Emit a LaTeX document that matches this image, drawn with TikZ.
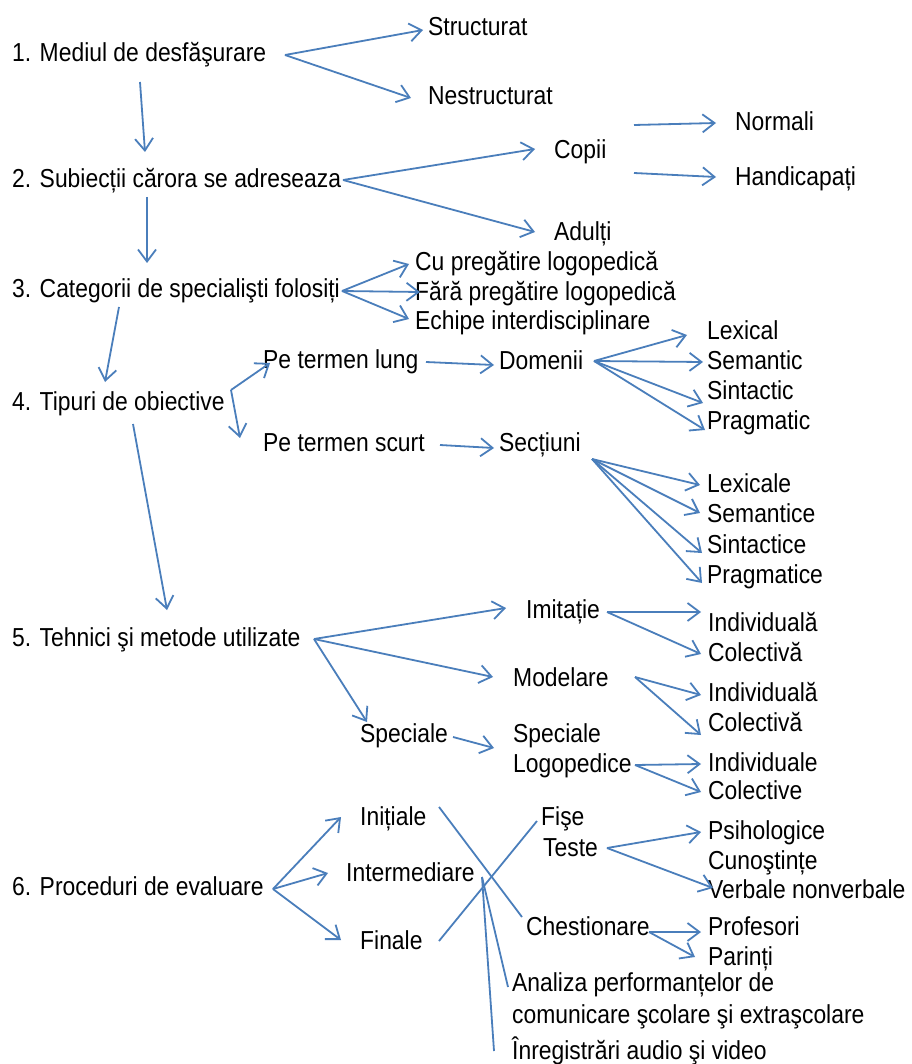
\documentclass[tikz,border=0pt]{standalone}
\usepackage{fontspec}
\setmainfont{Liberation Sans}[FakeStretch=0.88]
\usetikzlibrary{arrows.meta,calc}
\definecolor{lineblue}{RGB}{74,126,187}
\tikzset{
  txt/.style={anchor=base west, inner sep=0pt, font=\fontsize{26pt}{30pt}\selectfont},
  txt2/.style={txt, align=left},
  arr/.style={draw=lineblue, line width=1.8pt, -{Straight Barb[length=12pt,width=18pt]}},
  ln/.style={draw=lineblue, line width=1.8pt}
}
\begin{document}
\begin{tikzpicture}[x=1pt,y=-1pt]
\useasboundingbox[fill=white] (0,0) rectangle (911,1064);
% nodes
\node[txt] (n1) at (12,62) {1. Mediul de desfăşurare};
\node[txt] (st) at (428,36) {Structurat};
\node[txt] (ne) at (428,105) {Nestructurat};
\node[txt] (n2) at (12,188) {2. Subiecții cărora se adreseaza};
\node[txt] (co) at (554,159) {Copii};
\node[txt] (ad) at (554,241) {Adulți};
\node[txt] (no) at (735,131) {Normali};
\node[txt] (ha) at (735,186) {Handicapați};
\node[txt] (n3) at (12,298) {3. Categorii de specialişti folosiți};
\node[txt] (cu) at (415,271) {Cu pregătire logopedică};
\node[txt] (fa) at (415,300) {Fără pregătire logopedică};
\node[txt] (ec) at (415,329) {Echipe interdisciplinare};
\node[txt] (n4) at (12,410) {4. Tipuri de obiective};
\node[txt] (pl) at (263,368) {Pe termen lung};
\node[txt] (ps) at (263,451) {Pe termen scurt};
\node[txt] (do) at (499,369) {Domenii};
\node[txt] (se) at (499,451) {Secțiuni};
\node[txt] (lx) at (707,339) {Lexical};
\node[txt] (sm) at (707,369) {Semantic};
\node[txt] (si) at (707,399) {Sintactic};
\node[txt] (pr) at (707,429) {Pragmatic};
\node[txt] (lxe) at (707,492) {Lexicale};
\node[txt] (sme) at (707,522) {Semantice};
\node[txt] (sie) at (707,553) {Sintactice};
\node[txt] (pre) at (707,583) {Pragmatice};
\node[txt] (n5) at (12,646) {5. Tehnici şi metode utilizate};
\node[txt] (im) at (526,618) {Imitație};
\node[txt] (mo) at (513,686) {Modelare};
\node[txt] (sp) at (360,742) {Speciale};
\node[txt2] (sl) at (513,772) {Speciale\\[0pt]Logopedice};
\node[txt] (i1) at (708,631) {Individuală};
\node[txt] (c1) at (708,661) {Colectivă};
\node[txt] (i2) at (708,701) {Individuală};
\node[txt] (c2) at (708,731) {Colectivă};
\node[txt] (i3) at (708,771) {Individuale};
\node[txt] (c3) at (708,799) {Colective};
\node[txt] (n6) at (12,895) {6. Proceduri de evaluare};
\node[txt] (in) at (360,825) {Inițiale};
\node[txt] (it) at (346,881) {Intermediare};
\node[txt] (fi) at (360,949) {Finale};
\node[txt] (fs) at (541,825) {Fişe};
\node[txt] (te) at (543,856) {Teste};
\node[txt] (ps2) at (708,839) {Psihologice};
\node[txt] (cn) at (708,869) {Cunoştințe};
\node[txt] (vb) at (708,898) {Verbale nonverbale};
\node[txt] (ch) at (526,935) {Chestionare};
\node[txt] (pf) at (708,935) {Profesori};
\node[txt] (pa) at (708,965) {Parinți};
\node[txt2] (an) at (512,1023) {Analiza performanțelor de\\[2pt]comunicare şcolare şi extraşcolare};
\node[txt] (ir) at (512,1059) {Înregistrări audio şi video};
% connectors
\draw[arr] ($(n1.base west)+(273,-7)$) -- ($(st.base west)+(-5,-6)$);
\draw[arr] ($(n1.base west)+(273,-7)$) -- ($(ne.base west)+(-17,-7)$);
\draw[arr] ($(n1.base west)+(128,20)$) -- ($(n2.base west)+(133,-36)$);
\draw[arr] ($(n2.base west)+(331,-8)$) -- ($(co.base west)+(-19,-10)$);
\draw[arr] ($(n2.base west)+(331,-8)$) -- ($(ad.base west)+(-19,-9)$);
\draw[arr] ($(co.base west)+(80,-34)$) -- ($(no.base west)+(-19,-8)$);
\draw[arr] ($(co.base west)+(80,14)$) -- ($(ha.base west)+(-19,-9)$);
\draw[arr] ($(n2.base west)+(135,9)$) -- ($(n3.base west)+(135,-35)$);
\draw[arr] ($(n3.base west)+(330,-7)$) -- ($(cu.base west)+(-6,-7)$);
\draw[arr] ($(n3.base west)+(330,-7)$) -- ($(fa.base west)+(5,-8)$);
\draw[arr] ($(n3.base west)+(330,-7)$) -- ($(ec.base west)+(-6,-10)$);
\draw[arr] ($(n3.base west)+(107,9)$) -- ($(n4.base west)+(93,-28)$);
\draw[arr] ($(n4.base west)+(219,-20)$) -- ($(pl.base west)+(7,-5)$);
\draw[arr] ($(n4.base west)+(219,-20)$) -- ($(ps.base west)+(-23,-13)$);
\draw[arr] ($(pl.base west)+(163,-6)$) -- ($(do.base west)+(-5,-4)$);
\draw[arr] ($(ps.base west)+(177,-6)$) -- ($(se.base west)+(-5,-3)$);
\draw[arr] ($(do.base west)+(95,-8)$) -- ($(lx.base west)+(-20,-4)$);
\draw[arr] ($(do.base west)+(95,-8)$) -- ($(sm.base west)+(-4,-7)$);
\draw[arr] ($(do.base west)+(95,-8)$) -- ($(si.base west)+(-4,4)$);
\draw[arr] ($(do.base west)+(95,-8)$) -- ($(pr.base west)+(-2,1)$);
\draw[arr] ($(se.base west)+(93,8)$) -- ($(lxe.base west)+(-7,-7)$);
\draw[arr] ($(se.base west)+(93,8)$) -- ($(sme.base west)+(-7,-9)$);
\draw[arr] ($(se.base west)+(93,8)$) -- ($(sie.base west)+(-5,0)$);
\draw[arr] ($(se.base west)+(93,8)$) -- ($(pre.base west)+(-5,0)$);
\draw[arr] ($(n4.base west)+(121,14)$) -- ($(n5.base west)+(155,-36)$);
\draw[arr] ($(n5.base west)+(302,-7)$) -- ($(im.base west)+(-20,-10)$);
\draw[arr] ($(n5.base west)+(302,-7)$) -- ($(mo.base west)+(-20,-9)$);
\draw[arr] ($(n5.base west)+(302,-7)$) -- ($(sp.base west)+(7,-20)$);
\draw[arr] ($(im.base west)+(81,-6)$) -- ($(i1.base west)+(-7,-19)$);
\draw[arr] ($(im.base west)+(81,-6)$) -- ($(c1.base west)+(-7,-7)$);
\draw[arr] ($(mo.base west)+(122,-9)$) -- ($(i2.base west)+(-7,-6)$);
\draw[arr] ($(mo.base west)+(122,-9)$) -- ($(c2.base west)+(-7,4)$);
\draw[arr] ($(sp.base west)+(93,-5)$) -- ($(sl.base west)+(-19,-24)$);
\draw[arr] ($(sl.base west)+(122,-7)$) -- ($(i3.base west)+(-7,-7)$);
\draw[arr] ($(sl.base west)+(122,-7)$) -- ($(c3.base west)+(-7,-7)$);
\draw[arr] ($(n6.base west)+(261,-6)$) -- ($(in.base west)+(-19,-8)$);
\draw[arr] ($(n6.base west)+(261,-6)$) -- ($(it.base west)+(-18,-8)$);
\draw[arr] ($(n6.base west)+(261,-6)$) -- ($(fi.base west)+(-19,-9)$);
\draw[ln] ($(in.base west)+(79,-18)$) -- ($(ch.base west)+(-4,-18)$);
\draw[ln] ($(fi.base west)+(79,-8)$) -- ($(fs.base west)+(-4,-4)$);
\draw[ln] ($(it.base west)+(136,-4)$) -- ($(an.base west)+(-4,-36)$);
\draw[ln] ($(it.base west)+(136,-4)$) -- ($(ir.base west)+(-18,-8)$);
\draw[arr] ($(te.base west)+(64,-8)$) -- ($(ps2.base west)+(-7,-7)$);
\draw[arr] ($(te.base west)+(64,-8)$) -- ($(vb.base west)+(5,-10)$);
\draw[arr] ($(ch.base west)+(123,-3)$) -- ($(pf.base west)+(-7,-3)$);
\draw[arr] ($(ch.base west)+(123,-3)$) -- ($(pa.base west)+(-13,-8)$);
\end{tikzpicture}
\end{document}
